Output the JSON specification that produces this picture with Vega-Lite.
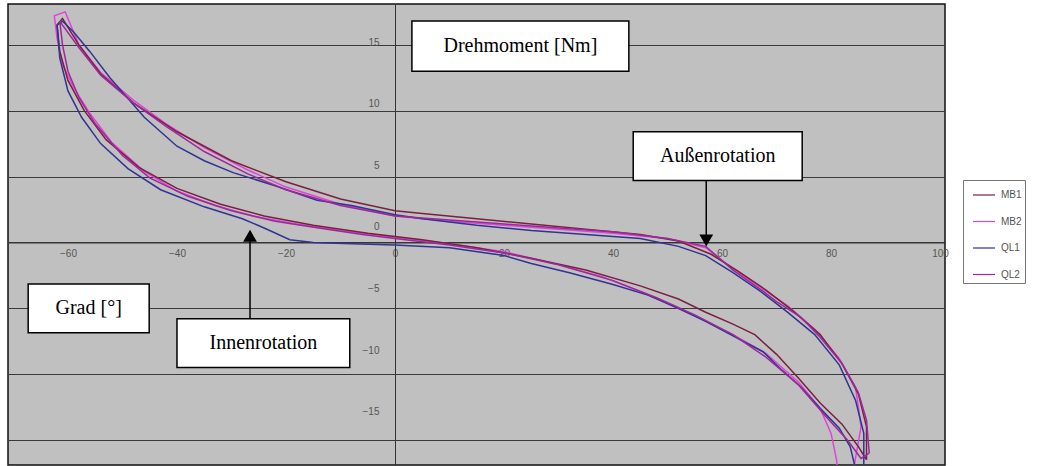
{
  "$schema": "https://vega.github.io/schema/vega-lite/v6.json",
  "width": 937,
  "height": 461,
  "autosize": {"type": "none"},
  "padding": {"left": 8, "top": 4, "right": 95, "bottom": 1},
  "background": "white",
  "config": {
    "view": {"fill": "#c0c0c0", "stroke": "#111", "strokeWidth": 1.5},
    "axis": {"labelFont": "Liberation Sans", "labelFontSize": 10, "labelColor": "#555"}
  },
  "datasets": {
    "curves": [
      {"s":"MB2","i":0,"x":84,"y":-17.5},{"s":"MB2","i":1,"x":85.5,"y":-14},{"s":"MB2","i":2,"x":84.5,"y":-11},{"s":"MB2","i":3,"x":81.5,"y":-8.8},{"s":"MB2","i":4,"x":77,"y":-6.6},{"s":"MB2","i":5,"x":72,"y":-4.8},{"s":"MB2","i":6,"x":67,"y":-3.4},{"s":"MB2","i":7,"x":62,"y":-2.0},{"s":"MB2","i":8,"x":57,"y":-0.4},{"s":"MB2","i":9,"x":50,"y":0.3},{"s":"MB2","i":10,"x":40,"y":0.7},{"s":"MB2","i":11,"x":30,"y":1.0},{"s":"MB2","i":12,"x":20,"y":1.3},{"s":"MB2","i":13,"x":10,"y":1.6},{"s":"MB2","i":14,"x":0,"y":2.0},{"s":"MB2","i":15,"x":-10,"y":2.9},{"s":"MB2","i":16,"x":-20,"y":4.2},{"s":"MB2","i":17,"x":-27,"y":5.5},{"s":"MB2","i":18,"x":-35,"y":7.2},{"s":"MB2","i":19,"x":-42,"y":9.0},{"s":"MB2","i":20,"x":-48,"y":10.8},{"s":"MB2","i":21,"x":-54,"y":12.9},{"s":"MB2","i":22,"x":-58,"y":15.0},{"s":"MB2","i":23,"x":-60.5,"y":17.5},{"s":"MB2","i":24,"x":-62.5,"y":17.2},{"s":"MB2","i":25,"x":-62,"y":15.5},{"s":"MB2","i":26,"x":-61,"y":13.5},{"s":"MB2","i":27,"x":-59,"y":11.8},{"s":"MB2","i":28,"x":-56,"y":9.8},{"s":"MB2","i":29,"x":-52,"y":7.6},{"s":"MB2","i":30,"x":-46,"y":5.4},{"s":"MB2","i":31,"x":-40,"y":3.9},{"s":"MB2","i":32,"x":-33,"y":2.8},{"s":"MB2","i":33,"x":-26,"y":2.0},{"s":"MB2","i":34,"x":-18,"y":1.4},{"s":"MB2","i":35,"x":-10,"y":0.9},{"s":"MB2","i":36,"x":0,"y":0.4},{"s":"MB2","i":37,"x":10,"y":-0.1},{"s":"MB2","i":38,"x":20,"y":-0.7},{"s":"MB2","i":39,"x":30,"y":-1.7},{"s":"MB2","i":40,"x":38,"y":-2.6},{"s":"MB2","i":41,"x":46,"y":-3.9},{"s":"MB2","i":42,"x":55,"y":-5.6},{"s":"MB2","i":43,"x":62,"y":-7.0},{"s":"MB2","i":44,"x":68,"y":-8.4},{"s":"MB2","i":45,"x":74,"y":-10.6},{"s":"MB2","i":46,"x":78,"y":-12.6},{"s":"MB2","i":47,"x":80,"y":-14.5},{"s":"MB2","i":48,"x":81,"y":-16.5},{"s":"MB2","i":49,"x":81.5,"y":-18.8},{"s":"MB2","i":50,"x":82.5,"y":-18},{"s":"MB2","i":51,"x":84,"y":-17.5},

      {"s":"MB1","i":0,"x":86.5,"y":-16.5},{"s":"MB1","i":1,"x":86.5,"y":-14},{"s":"MB1","i":2,"x":85,"y":-11.5},{"s":"MB1","i":3,"x":82,"y":-9.2},{"s":"MB1","i":4,"x":78,"y":-7},{"s":"MB1","i":5,"x":73,"y":-5.2},{"s":"MB1","i":6,"x":68,"y":-3.6},{"s":"MB1","i":7,"x":63,"y":-2.2},{"s":"MB1","i":8,"x":58,"y":-0.9},{"s":"MB1","i":9,"x":52,"y":0.1},{"s":"MB1","i":10,"x":45,"y":0.6},{"s":"MB1","i":11,"x":35,"y":1.0},{"s":"MB1","i":12,"x":25,"y":1.4},{"s":"MB1","i":13,"x":15,"y":1.8},{"s":"MB1","i":14,"x":5,"y":2.2},{"s":"MB1","i":15,"x":0,"y":2.4},{"s":"MB1","i":16,"x":-10,"y":3.3},{"s":"MB1","i":17,"x":-20,"y":4.6},{"s":"MB1","i":18,"x":-30,"y":6.2},{"s":"MB1","i":19,"x":-40,"y":8.4},{"s":"MB1","i":20,"x":-48,"y":10.6},{"s":"MB1","i":21,"x":-54,"y":12.8},{"s":"MB1","i":22,"x":-58,"y":15},{"s":"MB1","i":23,"x":-61,"y":17},{"s":"MB1","i":24,"x":-62,"y":16.5},{"s":"MB1","i":25,"x":-61.5,"y":14.5},{"s":"MB1","i":26,"x":-60,"y":12.3},{"s":"MB1","i":27,"x":-57,"y":10},{"s":"MB1","i":28,"x":-53,"y":7.8},{"s":"MB1","i":29,"x":-47,"y":5.7},{"s":"MB1","i":30,"x":-40,"y":4.1},{"s":"MB1","i":31,"x":-32,"y":2.9},{"s":"MB1","i":32,"x":-24,"y":2.0},{"s":"MB1","i":33,"x":-15,"y":1.3},{"s":"MB1","i":34,"x":-5,"y":0.7},{"s":"MB1","i":35,"x":5,"y":0.2},{"s":"MB1","i":36,"x":15,"y":-0.4},{"s":"MB1","i":37,"x":25,"y":-1.2},{"s":"MB1","i":38,"x":35,"y":-2.1},{"s":"MB1","i":39,"x":45,"y":-3.3},{"s":"MB1","i":40,"x":52,"y":-4.3},{"s":"MB1","i":41,"x":57,"y":-5.3},{"s":"MB1","i":42,"x":62,"y":-6.2},{"s":"MB1","i":43,"x":66,"y":-7.0},{"s":"MB1","i":44,"x":70,"y":-8.5},{"s":"MB1","i":45,"x":74,"y":-10.3},{"s":"MB1","i":46,"x":78,"y":-12.2},{"s":"MB1","i":47,"x":82,"y":-13.8},{"s":"MB1","i":48,"x":85,"y":-15.5},{"s":"MB1","i":49,"x":86.5,"y":-16.5},

      {"s":"QL1","i":0,"x":86,"y":-17},{"s":"QL1","i":1,"x":86,"y":-14.5},{"s":"QL1","i":2,"x":84.5,"y":-12},{"s":"QL1","i":3,"x":81.5,"y":-9.3},{"s":"QL1","i":4,"x":77,"y":-7},{"s":"QL1","i":5,"x":72,"y":-5.3},{"s":"QL1","i":6,"x":67,"y":-3.7},{"s":"QL1","i":7,"x":62,"y":-2.3},{"s":"QL1","i":8,"x":57,"y":-1},{"s":"QL1","i":9,"x":52,"y":-0.3},{"s":"QL1","i":10,"x":45,"y":0.3},{"s":"QL1","i":11,"x":35,"y":0.6},{"s":"QL1","i":12,"x":25,"y":0.9},{"s":"QL1","i":13,"x":15,"y":1.3},{"s":"QL1","i":14,"x":5,"y":1.8},{"s":"QL1","i":15,"x":0,"y":2.1},{"s":"QL1","i":16,"x":-8,"y":2.8},{"s":"QL1","i":17,"x":-14.3,"y":3.2},{"s":"QL1","i":18,"x":-22,"y":4.3},{"s":"QL1","i":19,"x":-29.7,"y":5.3},{"s":"QL1","i":20,"x":-35,"y":6.2},{"s":"QL1","i":21,"x":-40,"y":7.3},{"s":"QL1","i":22,"x":-46,"y":9.5},{"s":"QL1","i":23,"x":-52.3,"y":12.5},{"s":"QL1","i":24,"x":-56,"y":14.5},{"s":"QL1","i":25,"x":-59,"y":16},{"s":"QL1","i":26,"x":-61,"y":16.8},{"s":"QL1","i":27,"x":-62,"y":16.5},{"s":"QL1","i":28,"x":-61.5,"y":14},{"s":"QL1","i":29,"x":-60,"y":11.5},{"s":"QL1","i":30,"x":-57.5,"y":9.5},{"s":"QL1","i":31,"x":-54,"y":7.5},{"s":"QL1","i":32,"x":-49,"y":5.6},{"s":"QL1","i":33,"x":-43,"y":4.0},{"s":"QL1","i":34,"x":-35,"y":2.7},{"s":"QL1","i":35,"x":-28,"y":1.8},{"s":"QL1","i":36,"x":-23.5,"y":1.0},{"s":"QL1","i":37,"x":-19.3,"y":0.2},{"s":"QL1","i":38,"x":-15,"y":0.0},{"s":"QL1","i":39,"x":-8,"y":-0.1},{"s":"QL1","i":40,"x":0,"y":-0.2},{"s":"QL1","i":41,"x":10,"y":-0.4},{"s":"QL1","i":42,"x":20,"y":-1.0},{"s":"QL1","i":43,"x":25,"y":-1.6},{"s":"QL1","i":44,"x":32,"y":-2.3},{"s":"QL1","i":45,"x":40,"y":-3.2},{"s":"QL1","i":46,"x":46.4,"y":-4.0},{"s":"QL1","i":47,"x":52,"y":-5.0},{"s":"QL1","i":48,"x":57,"y":-6.0},{"s":"QL1","i":49,"x":62,"y":-7.1},{"s":"QL1","i":50,"x":67.5,"y":-8.3},{"s":"QL1","i":51,"x":71,"y":-9.7},{"s":"QL1","i":52,"x":74.5,"y":-11},{"s":"QL1","i":53,"x":78,"y":-12.6},{"s":"QL1","i":54,"x":81.5,"y":-14.1},{"s":"QL1","i":55,"x":83.5,"y":-15.5},{"s":"QL1","i":56,"x":84.5,"y":-17.2},{"s":"QL1","i":57,"x":85,"y":-18.4},{"s":"QL1","i":58,"x":86,"y":-17.5},{"s":"QL1","i":59,"x":86,"y":-17},

      {"s":"QL2","i":0,"x":87,"y":-16},{"s":"QL2","i":1,"x":86.5,"y":-13.5},{"s":"QL2","i":2,"x":85,"y":-11.4},{"s":"QL2","i":3,"x":82,"y":-9.2},{"s":"QL2","i":4,"x":78,"y":-7.2},{"s":"QL2","i":5,"x":74.5,"y":-5.7},{"s":"QL2","i":6,"x":70,"y":-4.5},{"s":"QL2","i":7,"x":67.5,"y":-3.7},{"s":"QL2","i":8,"x":62,"y":-2.1},{"s":"QL2","i":9,"x":57,"y":-0.3},{"s":"QL2","i":10,"x":50,"y":0.3},{"s":"QL2","i":11,"x":40,"y":0.8},{"s":"QL2","i":12,"x":30,"y":1.1},{"s":"QL2","i":13,"x":20,"y":1.4},{"s":"QL2","i":14,"x":10,"y":1.7},{"s":"QL2","i":15,"x":0,"y":2.0},{"s":"QL2","i":16,"x":-10,"y":2.8},{"s":"QL2","i":17,"x":-20,"y":4.0},{"s":"QL2","i":18,"x":-27,"y":5.2},{"s":"QL2","i":19,"x":-35,"y":6.9},{"s":"QL2","i":20,"x":-42,"y":8.8},{"s":"QL2","i":21,"x":-48,"y":10.6},{"s":"QL2","i":22,"x":-54,"y":12.7},{"s":"QL2","i":23,"x":-58,"y":14.8},{"s":"QL2","i":24,"x":-61,"y":16.5},{"s":"QL2","i":25,"x":-61.5,"y":16.8},{"s":"QL2","i":26,"x":-61,"y":15},{"s":"QL2","i":27,"x":-60,"y":13},{"s":"QL2","i":28,"x":-58,"y":11},{"s":"QL2","i":29,"x":-55,"y":9},{"s":"QL2","i":30,"x":-50,"y":6.6},{"s":"QL2","i":31,"x":-45,"y":4.9},{"s":"QL2","i":32,"x":-38,"y":3.5},{"s":"QL2","i":33,"x":-30,"y":2.4},{"s":"QL2","i":34,"x":-22,"y":1.6},{"s":"QL2","i":35,"x":-14,"y":1.1},{"s":"QL2","i":36,"x":-6,"y":0.6},{"s":"QL2","i":37,"x":0,"y":0.3},{"s":"QL2","i":38,"x":10,"y":-0.2},{"s":"QL2","i":39,"x":20,"y":-0.8},{"s":"QL2","i":40,"x":30,"y":-1.7},{"s":"QL2","i":41,"x":40,"y":-2.9},{"s":"QL2","i":42,"x":48,"y":-4.2},{"s":"QL2","i":43,"x":55,"y":-5.5},{"s":"QL2","i":44,"x":62,"y":-7},{"s":"QL2","i":45,"x":68,"y":-8.7},{"s":"QL2","i":46,"x":74,"y":-10.8},{"s":"QL2","i":47,"x":79,"y":-13.2},{"s":"QL2","i":48,"x":83,"y":-15},{"s":"QL2","i":49,"x":85.5,"y":-16.4},{"s":"QL2","i":50,"x":87,"y":-16}
    ],
    "boxes": [
      {"label":"Drehmoment [Nm]","x1":3.1,"x2":42.9,"y1":16.8,"y2":13.0,"tx":23.0,"ty":14.9},
      {"label":"Außenrotation","x1":43.7,"x2":74.7,"y1":8.4,"y2":4.7,"tx":59.2,"ty":6.55},
      {"label":"Grad [°]","x1":-67.3,"x2":-45.1,"y1":-3.15,"y2":-6.86,"tx":-56.2,"ty":-5.0},
      {"label":"Innenrotation","x1":-40,"x2":-8.3,"y1":-5.8,"y2":-9.5,"tx":-24.15,"ty":-7.65}
    ],
    "arrows": [
      {"x":57.1,"y1":4.7,"y2":0.4,"ty":0.15,"shape":"triangle-down"},
      {"x":-26.6,"y1":-5.8,"y2":0.3,"ty":0.5,"shape":"triangle-up"}
    ]
  },
  "layer": [
    {
      "data": {"name": "curves"},
      "mark": {"type": "line", "strokeWidth": 1.5, "clip": true},
      "encoding": {
        "x": {"field": "x", "type": "quantitative", "scale": {"domain": [-71, 100.9], "nice": false, "zero": false},
          "axis": {"orient": "bottom", "offset": -222.5, "values": [-60,-40,-20,0,20,40,60,80,100], "grid": false, "domain": true, "domainColor": "#333", "ticks": false, "labelPadding": 6, "labelFlush": false, "title": null}},
        "y": {"field": "y", "type": "quantitative", "scale": {"domain": [-16.9, 18.1], "nice": false, "zero": false},
          "axis": {"orient": "left", "offset": -387, "values": [-15,-10,-5,0,5,10,15], "grid": true, "gridColor": "#3a3a3a", "gridWidth": 1, "gridOpacity": 1, "domain": true, "domainColor": "#333", "ticks": false, "labelPadding": 16, "title": null, "labelOffset": {"expr": "-15.5 + 0.86 * datum.value"}}},
        "color": {"field": "s", "type": "nominal",
          "scale": {"domain": ["MB1","MB2","QL1","QL2"], "range": ["#7a2040","#e045d8","#2f3590","#9a2a9a"]},
          "legend": {"orient": "none", "legendX": 955, "legendY": 176, "title": null, "fillColor": "white", "strokeColor": "#777", "padding": 3, "symbolOffset": 6, "symbolType": "stroke", "symbolSize": 484, "symbolStrokeWidth": 1.2, "rowPadding": 9.5, "labelFont": "Liberation Sans", "labelFontSize": 10, "labelColor": "#555", "labelOffset": 5, "labelLimit": 60}},
        "order": {"field": "i", "type": "quantitative"}
      }
    },
    {
      "data": {"name": "arrows"},
      "mark": {"type": "rule", "color": "black", "strokeWidth": 1.5},
      "encoding": {"x": {"field": "x", "type": "quantitative"}, "y": {"field": "y1", "type": "quantitative"}, "y2": {"field": "y2"}}
    },
    {
      "data": {"name": "arrows"},
      "mark": {"type": "point", "filled": true, "color": "black", "opacity": 1, "size": 190},
      "encoding": {"x": {"field": "x", "type": "quantitative"}, "y": {"field": "ty", "type": "quantitative"},
        "shape": {"field": "shape", "type": "nominal", "scale": null}}
    },
    {
      "data": {"name": "boxes"},
      "mark": {"type": "rect", "fill": "white", "stroke": "black", "strokeWidth": 1.5},
      "encoding": {"x": {"field": "x1", "type": "quantitative"}, "x2": {"field": "x2"}, "y": {"field": "y1", "type": "quantitative"}, "y2": {"field": "y2"}}
    },
    {
      "data": {"name": "boxes"},
      "mark": {"type": "text", "font": "Liberation Serif", "fontSize": 20, "color": "black", "align": "center", "baseline": "middle"},
      "encoding": {"x": {"field": "tx", "type": "quantitative"}, "y": {"field": "ty", "type": "quantitative"}, "text": {"field": "label"}}
    }
  ]
}
